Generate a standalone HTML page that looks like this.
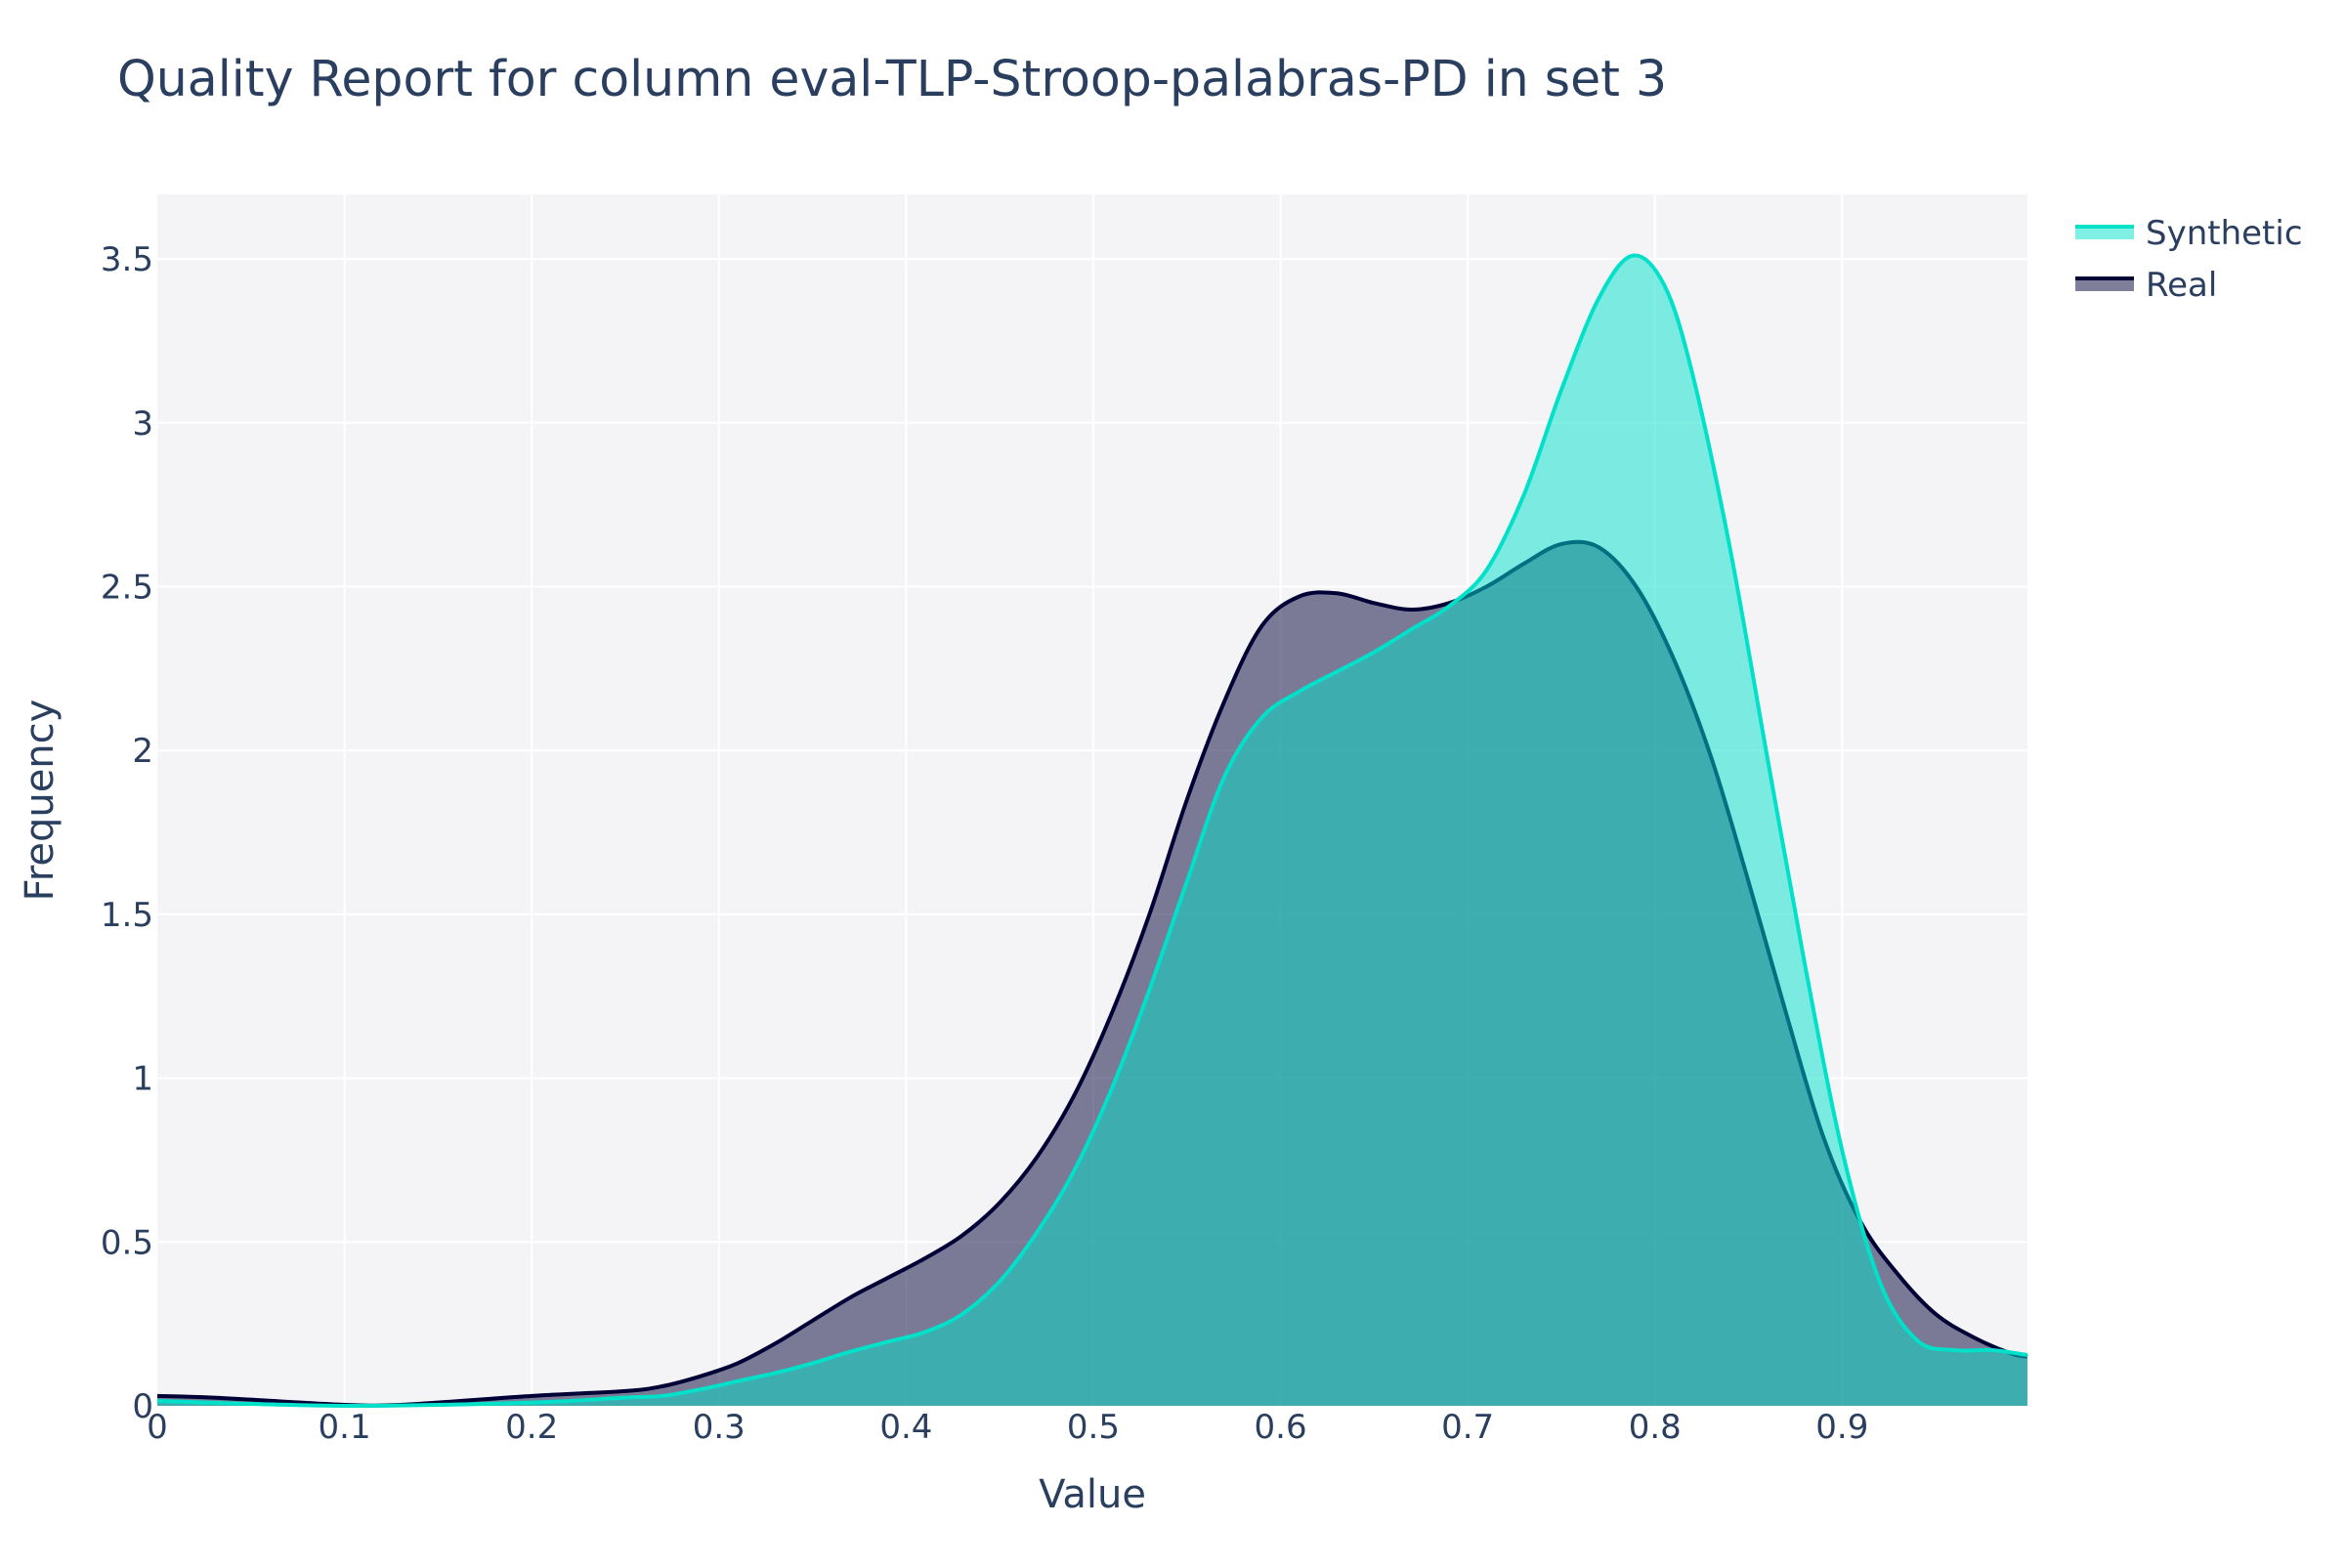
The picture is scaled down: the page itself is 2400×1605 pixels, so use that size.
<!DOCTYPE html>
<html><head><meta charset="utf-8"><style>
html,body{margin:0;padding:0;background:#fff}
svg text{font-family:"DejaVu Sans","Liberation Sans",sans-serif;fill:#2a3f5f}
</style></head><body>
<svg id="chart" width="2400" height="1600" xmlns="http://www.w3.org/2000/svg">
<rect width="2400" height="1600" fill="#fff"/>
<text x="120" y="98" font-size="50.5">Quality Report for column eval-TLP-Stroop-palabras-PD in set 3</text>
<rect x="161" y="199" width="1914" height="1240" fill="#f4f4f7"/>
<g id="grid"></g>
<g id="series"></g>
<g id="ticks"></g>
<text x="1118" y="1543" font-size="40" text-anchor="middle">Value</text>
<text x="0" y="0" font-size="40" text-anchor="middle" transform="translate(54,819) rotate(-90)">Frequency</text>
<g>
<g>
<rect x="2124" y="231" width="60" height="14" fill="#01e0c9" opacity="0.5"/>
<line x1="2124" y1="232" x2="2184" y2="232" stroke="#01e0c9" stroke-width="4"/>
<text x="2196" y="250" font-size="34">Synthetic</text></g>
<g>
<rect x="2124" y="284" width="60" height="14" fill="#000036" opacity="0.5"/>
<line x1="2124" y1="285" x2="2184" y2="285" stroke="#000036" stroke-width="4"/>
<text x="2196" y="303" font-size="34">Real</text></g>
</g>
</svg>
<script>
const realX=[0,0.03,0.1,0.13,0.2,0.25,0.27,0.29,0.31,0.33,0.35,0.37,0.39,0.41,0.43,0.45,0.47,0.49,0.51,0.53,0.55,0.57,0.59,0.61,0.63,0.65,0.67,0.69,0.71,0.73,0.75,0.77,0.79,0.81,0.83,0.85,0.87,0.89,0.91,0.93,0.95,0.97,0.99,0.999];
const realY=[0.03,0.025,0.003,0.003,0.03,0.045,0.06,0.09,0.13,0.19,0.26,0.33,0.39,0.45,0.52,0.62,0.76,0.95,1.2,1.5,1.85,2.15,2.38,2.47,2.48,2.45,2.43,2.45,2.5,2.57,2.63,2.62,2.5,2.28,1.98,1.6,1.2,0.82,0.56,0.4,0.28,0.21,0.16,0.15];
const synX=[0,0.1,0.2,0.25,0.27,0.29,0.31,0.33,0.35,0.37,0.39,0.41,0.43,0.45,0.47,0.49,0.51,0.53,0.55,0.57,0.59,0.61,0.63,0.65,0.67,0.69,0.71,0.73,0.75,0.77,0.788,0.805,0.82,0.84,0.86,0.88,0.9,0.92,0.94,0.96,0.98,0.999];
const synY=[0.015,0.0,0.01,0.025,0.03,0.05,0.075,0.1,0.13,0.165,0.195,0.225,0.28,0.38,0.53,0.72,0.97,1.27,1.6,1.92,2.1,2.18,2.24,2.3,2.37,2.44,2.55,2.78,3.1,3.38,3.51,3.42,3.15,2.62,1.98,1.35,0.78,0.38,0.2,0.17,0.17,0.155];
const xTicks=[0,0.1,0.2,0.3,0.4,0.5,0.6,0.7,0.8,0.9];
const yTicks=[0,0.5,1,1.5,2,2.5,3,3.5];
const yTickLabels=["0","0.5","1","1.5","2","2.5","3","3.5"];
const X0=161,X1=2075,Y0=1439,Y1=199,xMax=0.999,yMax=3.697;
const sx=v=>X0+v/xMax*(X1-X0);
const sy=v=>Y0-v/yMax*(Y0-Y1);
const NS="http://www.w3.org/2000/svg";
const mk=(t,a,p)=>{const e=document.createElementNS(NS,t);for(const k in a)e.setAttribute(k,a[k]);p.appendChild(e);return e;};
const grid=document.getElementById('grid'),ticks=document.getElementById('ticks'),series=document.getElementById('series');
xTicks.forEach(v=>{if(v>0){const l=mk('line',{x1:sx(v),x2:sx(v),y1:Y1,y2:Y0,stroke:'#fff','stroke-width':2},grid);

}
const t=mk('text',{x:sx(v),y:1472,'font-size':34,'text-anchor':'middle'},ticks);t.textContent=String(v);

});
yTicks.forEach((v,i)=>{if(v>0){const l=mk('line',{x1:X0,x2:X1,y1:sy(v),y2:sy(v),stroke:'#fff','stroke-width':2},grid);

}
const t=mk('text',{x:157,y:sy(v)+12,'font-size':34,'text-anchor':'end'},ticks);t.textContent=yTickLabels[i];

});
function smooth(xs,ys){
 const P=xs.map((x,i)=>[sx(x),sy(ys[i])]);
 let d='M'+P[0][0].toFixed(1)+','+P[0][1].toFixed(1);
 for(let i=0;i<P.length-1;i++){
  const p0=P[Math.max(0,i-1)],p1=P[i],p2=P[i+1],p3=P[Math.min(P.length-1,i+2)];
  const c1=[p1[0]+(p2[0]-p0[0])/6,p1[1]+(p2[1]-p0[1])/6];
  const c2=[p2[0]-(p3[0]-p1[0])/6,p2[1]-(p3[1]-p1[1])/6];
  c1[1]=Math.min(c1[1],Y0);c2[1]=Math.min(c2[1],Y0);
  d+=` C${c1[0].toFixed(1)},${c1[1].toFixed(1)} ${c2[0].toFixed(1)},${c2[1].toFixed(1)} ${p2[0].toFixed(1)},${p2[1].toFixed(1)}`;
 }
 return d;
}
function draw(xs,ys,col,name){
 const d=smooth(xs,ys);
 const a=mk('path',{d:d+` L${sx(xs[xs.length-1])},${Y0} L${sx(xs[0])},${Y0} Z`,fill:col,'fill-opacity':0.5},series);
 
 
 const l=mk('path',{d:d,fill:'none',stroke:col,'stroke-width':4,'stroke-linejoin':'round'},series);
 
 
}
draw(realX,realY,'#000036','real');
draw(synX,synY,'#01e0c9','synthetic');
</script>
</body></html>
